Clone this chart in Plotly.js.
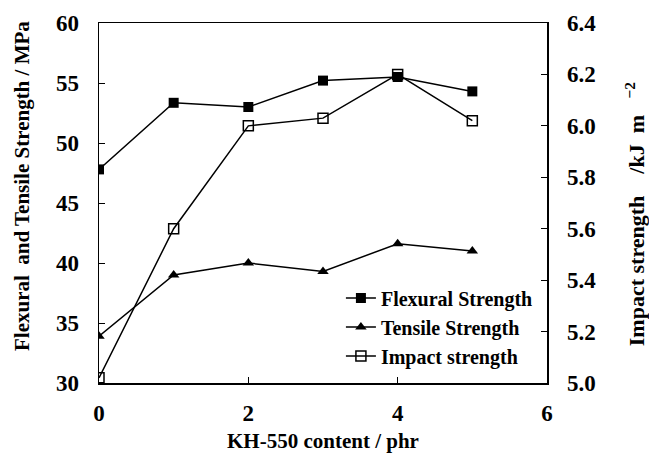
<!DOCTYPE html>
<html>
<head>
<meta charset="utf-8">
<script src="https://cdn.plot.ly/plotly-3.0.1.min.js"></script>
<style>html,body{margin:0;padding:0;background:#fff;}#chart{width:649px;height:453px;}</style>
</head>
<body>
<div id="chart"></div>
<script>
const content = [0, 1, 2, 3, 4, 5];
const flexural = [47.8, 53.35, 53.0, 55.2, 55.5, 54.3];
const tensile = [33.9, 39.0, 40.0, 39.3, 41.6, 41.0];
const impact = [5.02, 5.6, 6.0, 6.03, 6.2, 6.02];
const seriesNames = ['Flexural Strength', 'Tensile Strength', 'Impact strength'];
const xTitle = 'KH-550 content / phr';
const yTitle = 'Flexural  and Tensile Strength / MPa';
const y2Title = 'Impact strength\u00a0\u00a0\u00a0\u00a0/kJ\u00a0\u00a0m\u00a0\u00a0\u00a0<sup>\u22122</sup>';

const font = 'Liberation Serif, Times New Roman, serif';
const lineStyle = {color: '#000', width: 1.5};

const traces = [
  {x: content, y: flexural, name: seriesNames[0], type: 'scatter', mode: 'lines+markers',
   line: lineStyle, marker: {symbol: 'square', size: 10, color: '#000'}},
  {x: content, y: tensile, name: seriesNames[1], type: 'scatter', mode: 'lines+markers',
   line: lineStyle, marker: {symbol: 'triangle-up', size: 10, color: '#000'}},
  {x: content, y: impact, name: seriesNames[2], type: 'scatter', mode: 'lines+markers', yaxis: 'y2',
   line: lineStyle, marker: {symbol: 'square-open', size: 10, color: '#000', line: {width: 1.5, color: '#000'}}}
];

const tickFont = {family: font, size: 23, color: '#000', weight: 'bold'};
const titleFont = {family: font, size: 21, color: '#000', weight: 'bold'};

const layout = {
  width: 649, height: 453,
  margin: {l: 99, r: 102, t: 23, b: 70},
  paper_bgcolor: '#fff', plot_bgcolor: '#fff',
  font: {family: font, color: '#000'},
  showlegend: true,
  legend: {x: 0.54, y: 0.29, xanchor: 'left', yanchor: 'top', bgcolor: 'rgba(0,0,0,0)',
           font: {family: font, size: 20, color: '#000', weight: 'bold'}, tracegroupgap: 0, itemwidth: 30},
  xaxis: {range: [0, 6], dtick: 2, tick0: 0, showgrid: false, zeroline: false,
          showline: true, linecolor: '#000', linewidth: 1.5, mirror: true,
          ticks: 'inside', ticklen: 6, tickcolor: '#000', tickwidth: 1,
          tickfont: tickFont, ticklabelstandoff: 9,
          title: {text: xTitle, font: titleFont, standoff: 10}},
  yaxis: {range: [30, 60], dtick: 5, tick0: 30, showgrid: false, zeroline: false,
          showline: true, linecolor: '#000', linewidth: 1.5,
          ticks: 'inside', ticklen: 6, tickcolor: '#000', tickwidth: 1,
          tickfont: tickFont, ticklabelstandoff: 14},
  yaxis2: {range: [5.0, 6.4], dtick: 0.2, tick0: 5.0, tickformat: '.1f', overlaying: 'y', side: 'right',
           showgrid: false, zeroline: false, showline: true, linecolor: '#000', linewidth: 1.5,
           ticks: 'inside', ticklen: 6, tickcolor: '#000', tickwidth: 1,
           tickfont: tickFont, ticklabelstandoff: 14},
  annotations: [
    {text: yTitle, xref: 'paper', yref: 'paper', x: -0.172, y: 0.547, xanchor: 'center', yanchor: 'middle',
     textangle: -90, showarrow: false, font: titleFont},
    {text: y2Title, xref: 'paper', yref: 'paper', x: 1.1965, y: 0.469, xanchor: 'center', yanchor: 'middle',
     textangle: -90, showarrow: false, font: {family: font, size: 22, color: '#000', weight: 'bold'}}
  ]
};

Plotly.newPlot('chart', traces, layout, {displayModeBar: false, staticPlot: true});
</script>
</body>
</html>
